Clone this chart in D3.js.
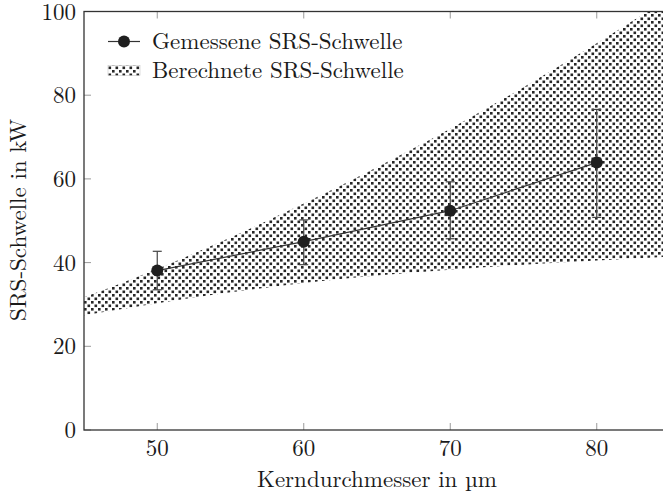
<!DOCTYPE html>
<html>
<head>
<meta charset="utf-8">
<script src="https://cdn.jsdelivr.net/npm/d3@7"></script>
<style>
  body { margin: 0; background: #fff; }
</style>
</head>
<body>
<div id="chart"></div>
<script>
// measured threshold (points + error bars)
var coreDiam = [50, 60, 70, 80];
var measured = [38.1, 45.0, 52.4, 63.9];
var errLow = [33.5, 39.5, 45.7, 50.8];
var errHigh = [42.7, 50.2, 59.3, 76.6];

// calculated threshold band
var bandDiam = [45, 50, 55, 60, 65, 70, 75, 80, 85];
var bandLow = [27.4, 30.3, 32.9, 35.1, 36.9, 38.3, 39.5, 40.5, 41.4];
var bandHigh = [31.7, 38.5, 46.0, 54.1, 62.8, 72.0, 81.9, 92.4, 103.4];

var xTicks = [50, 60, 70, 80];
var yTicks = [0, 20, 40, 60, 80, 100];

var width = 663, height = 494;
var fs = "23px";

var svg = d3.select("#chart")
  .append("svg")
  .attr("width", width)
  .attr("height", height);

var x = d3.scaleLinear().domain([45, 85]).range([84, 670]);
var y = d3.scaleLinear().domain([0, 100]).range([430, 11.5]);

// dot pattern like pgf "crosshatch dots"
var defs = svg.append("defs");
var pat = defs.append("pattern")
  .attr("id", "dots")
  .attr("patternUnits", "userSpaceOnUse")
  .attr("width", 7)
  .attr("height", 7);
pat.append("rect").attr("x", 0).attr("y", 0).attr("width", 2.6).attr("height", 2.6).attr("fill", "#262626");
pat.append("rect").attr("x", 3.5).attr("y", 3.5).attr("width", 2.6).attr("height", 2.6).attr("fill", "#262626");

defs.append("clipPath").attr("id", "plotclip")
  .append("rect")
  .attr("x", x.range()[0]).attr("y", y.range()[1])
  .attr("width", x.range()[1] - x.range()[0])
  .attr("height", y.range()[0] - y.range()[1]);

var band = bandDiam.map((d, i) => ({ d: d, lo: bandLow[i], hi: bandHigh[i] }));

svg.append("path")
  .datum(band)
  .attr("clip-path", "url(#plotclip)")
  .attr("fill", "url(#dots)")
  .attr("d", d3.area()
    .curve(d3.curveMonotoneX)
    .x(d => x(d.d))
    .y0(d => y(d.lo))
    .y1(d => y(d.hi)));

// ticks (inward, on all four sides)
var tickLen = 7;
var tickCol = "#9a9a9a";
xTicks.forEach(function (t) {
  svg.append("line").attr("x1", x(t)).attr("x2", x(t))
    .attr("y1", y(0)).attr("y2", y(0) - tickLen)
    .attr("stroke", tickCol).attr("stroke-width", 1);
  svg.append("line").attr("x1", x(t)).attr("x2", x(t))
    .attr("y1", y(100)).attr("y2", y(100) + tickLen)
    .attr("stroke", tickCol).attr("stroke-width", 1);
});
yTicks.forEach(function (t) {
  svg.append("line").attr("x1", x(45)).attr("x2", x(45) + tickLen)
    .attr("y1", y(t)).attr("y2", y(t))
    .attr("stroke", tickCol).attr("stroke-width", 1);
  svg.append("line").attr("x1", x(85)).attr("x2", x(85) - tickLen)
    .attr("y1", y(t)).attr("y2", y(t))
    .attr("stroke", tickCol).attr("stroke-width", 1);
});

// frame
svg.append("rect")
  .attr("x", x(45)).attr("y", y(100))
  .attr("width", x(85) - x(45)).attr("height", y(0) - y(100))
  .attr("fill", "none")
  .attr("stroke", "#333")
  .attr("stroke-width", 1.3);

function addText(sel) {
  return sel.append("text")
    .style("font-family", "'Latin Modern Roman'")
    .style("font-size", fs)
    .attr("fill", "#1a1a1a");
}

// tick labels
xTicks.forEach(function (t) {
  addText(svg).attr("x", x(t)).attr("y", 456).attr("text-anchor", "middle").text(t);
});
yTicks.forEach(function (t) {
  addText(svg).attr("x", 76).attr("y", y(t) + 8).attr("text-anchor", "end").text(t);
});

// axis titles
addText(svg).attr("x", 377).attr("y", 487).attr("text-anchor", "middle")
  .text("Kerndurchmesser in \u00b5m");
addText(svg).attr("transform", "translate(26,220) rotate(-90)").attr("text-anchor", "middle")
  .text("SRS-Schwelle in kW");

// measured data: line, error bars, markers
var pts = coreDiam.map((d, i) => ({ d: d, v: measured[i], lo: errLow[i], hi: errHigh[i] }));

svg.append("path")
  .datum(pts)
  .attr("fill", "none")
  .attr("stroke", "#333")
  .attr("stroke-width", 1.2)
  .attr("d", d3.line().x(d => x(d.d)).y(d => y(d.v)));

var eb = svg.selectAll(".err").data(pts).join("g").attr("class", "err")
  .attr("stroke", "#444").attr("stroke-width", 1.2);
eb.append("line").attr("x1", d => x(d.d)).attr("x2", d => x(d.d))
  .attr("y1", d => y(d.lo)).attr("y2", d => y(d.hi));
eb.append("line").attr("x1", d => x(d.d) - 4.5).attr("x2", d => x(d.d) + 4.5)
  .attr("y1", d => y(d.lo)).attr("y2", d => y(d.lo));
eb.append("line").attr("x1", d => x(d.d) - 4.5).attr("x2", d => x(d.d) + 4.5)
  .attr("y1", d => y(d.hi)).attr("y2", d => y(d.hi));

svg.selectAll(".pt")
  .data(pts)
  .join("circle")
  .attr("class", "pt")
  .attr("cx", d => x(d.d))
  .attr("cy", d => y(d.v))
  .attr("r", 6)
  .attr("fill", "#1f1f1f");

// legend
var lg = svg.append("g");
lg.append("line").attr("x1", 108).attr("x2", 140).attr("y1", 41.5).attr("y2", 41.5)
  .attr("stroke", "#333").attr("stroke-width", 1.2);
lg.append("circle").attr("cx", 124).attr("cy", 41.5).attr("r", 6).attr("fill", "#1f1f1f");
addText(lg).attr("x", 152).attr("y", 48.5).text("Gemessene SRS-Schwelle");

lg.append("rect").attr("x", 108).attr("y", 65.5).attr("width", 32).attr("height", 10)
  .attr("fill", "url(#dots)").attr("stroke", "#bbb").attr("stroke-width", 0.5);
addText(lg).attr("x", 152).attr("y", 78).text("Berechnete SRS-Schwelle");
</script>
</body>
</html>
